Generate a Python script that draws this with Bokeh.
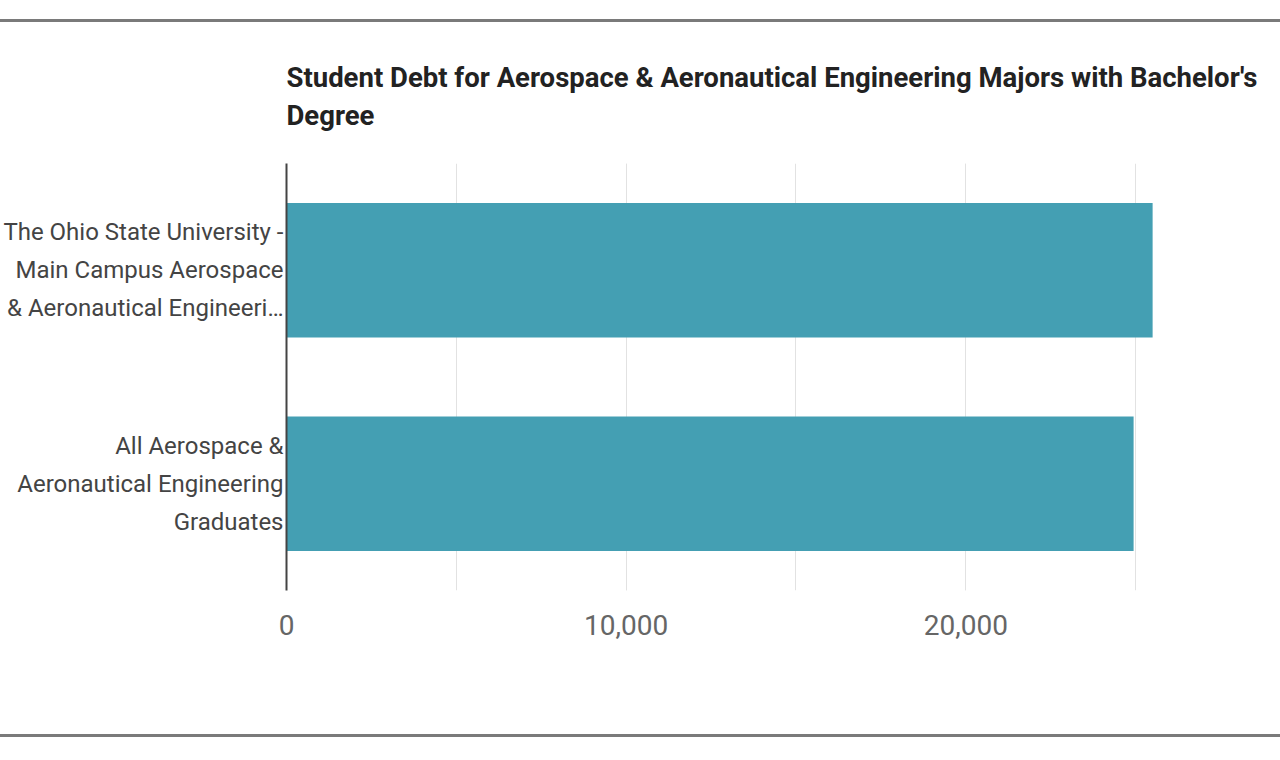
from bokeh.plotting import figure
from bokeh.layouts import column
from bokeh.models import Div, FactorRange, Range1d, SingleIntervalTicker, NumeralTickFormatter
from bokeh.embed import file_html
from bokeh.resources import INLINE

# ---- data ----
categories = [
    "The Ohio State University -\nMain Campus Aerospace\n& Aeronautical Engineeri…",
    "All Aerospace &\nAeronautical Engineering\nGraduates",
]
debt_values = [25500, 24940]
x_end = 29265
title_text = "Student Debt for Aerospace & Aeronautical Engineering Majors with Bachelor's\nDegree"

BAR = "#449fb3"

p = figure(
    width=1280, height=712,
    y_range=FactorRange(*list(reversed(categories))),
    x_range=Range1d(0, x_end),
    output_backend="svg", toolbar_location=None,
    min_border_left=285, min_border_right=0, min_border_top=141, min_border_bottom=144,
    title=title_text,
)
p.outline_line_color = None
p.background_fill_color = "white"
p.border_fill_color = "white"

p.hbar(y=categories, right=debt_values, left=0, height=0.63,
       fill_color=BAR, line_color=None)

# title
p.title.text_font = "Roboto"
p.title.text_font_style = "bold"
p.title.text_font_size = "27.5px"
p.title.text_color = "#222222"
p.title.text_line_height = 1.18
p.title.align = "left"
p.title.standoff = 62

# x axis
xa = p.xaxis[0]
xa.ticker = SingleIntervalTicker(interval=10000, num_minor_ticks=2)
xa.formatter = NumeralTickFormatter(format="0,0")
xa.axis_line_color = None
xa.major_tick_line_color = None
xa.minor_tick_line_color = None
xa.major_label_text_font = "Roboto"
xa.major_label_text_font_size = "28px"
xa.major_label_text_color = "#666666"
xa.major_label_standoff = 18

# y axis
ya = p.yaxis[0]
ya.axis_line_color = "#444444"
ya.axis_line_width = 2
ya.major_tick_line_color = None
ya.major_tick_out = 0
ya.major_tick_in = 0
ya.major_label_standoff = 3
ya.major_label_text_font = "Roboto"
ya.major_label_text_font_size = "24px"
ya.major_label_text_color = "#444444"
ya.major_label_text_line_height = 1.35

# grid
p.ygrid.grid_line_color = None
p.xgrid.grid_line_color = "#e2e2e2"
p.xgrid.minor_grid_line_color = "#e2e2e2"

top_gap = Div(width=1280, height=19, margin=(0, 0, 0, 0))
top_line = Div(width=1280, height=3, margin=(0, 0, 0, 0),
               styles={"background-color": "#7a7a7a"})
bottom_line = Div(width=1280, height=3, margin=(0, 0, 0, 0),
                  styles={"background-color": "#7a7a7a"})

layout = column(top_gap, top_line, p, bottom_line, spacing=0)

open("out.html", "w").write(file_html(layout, INLINE))
